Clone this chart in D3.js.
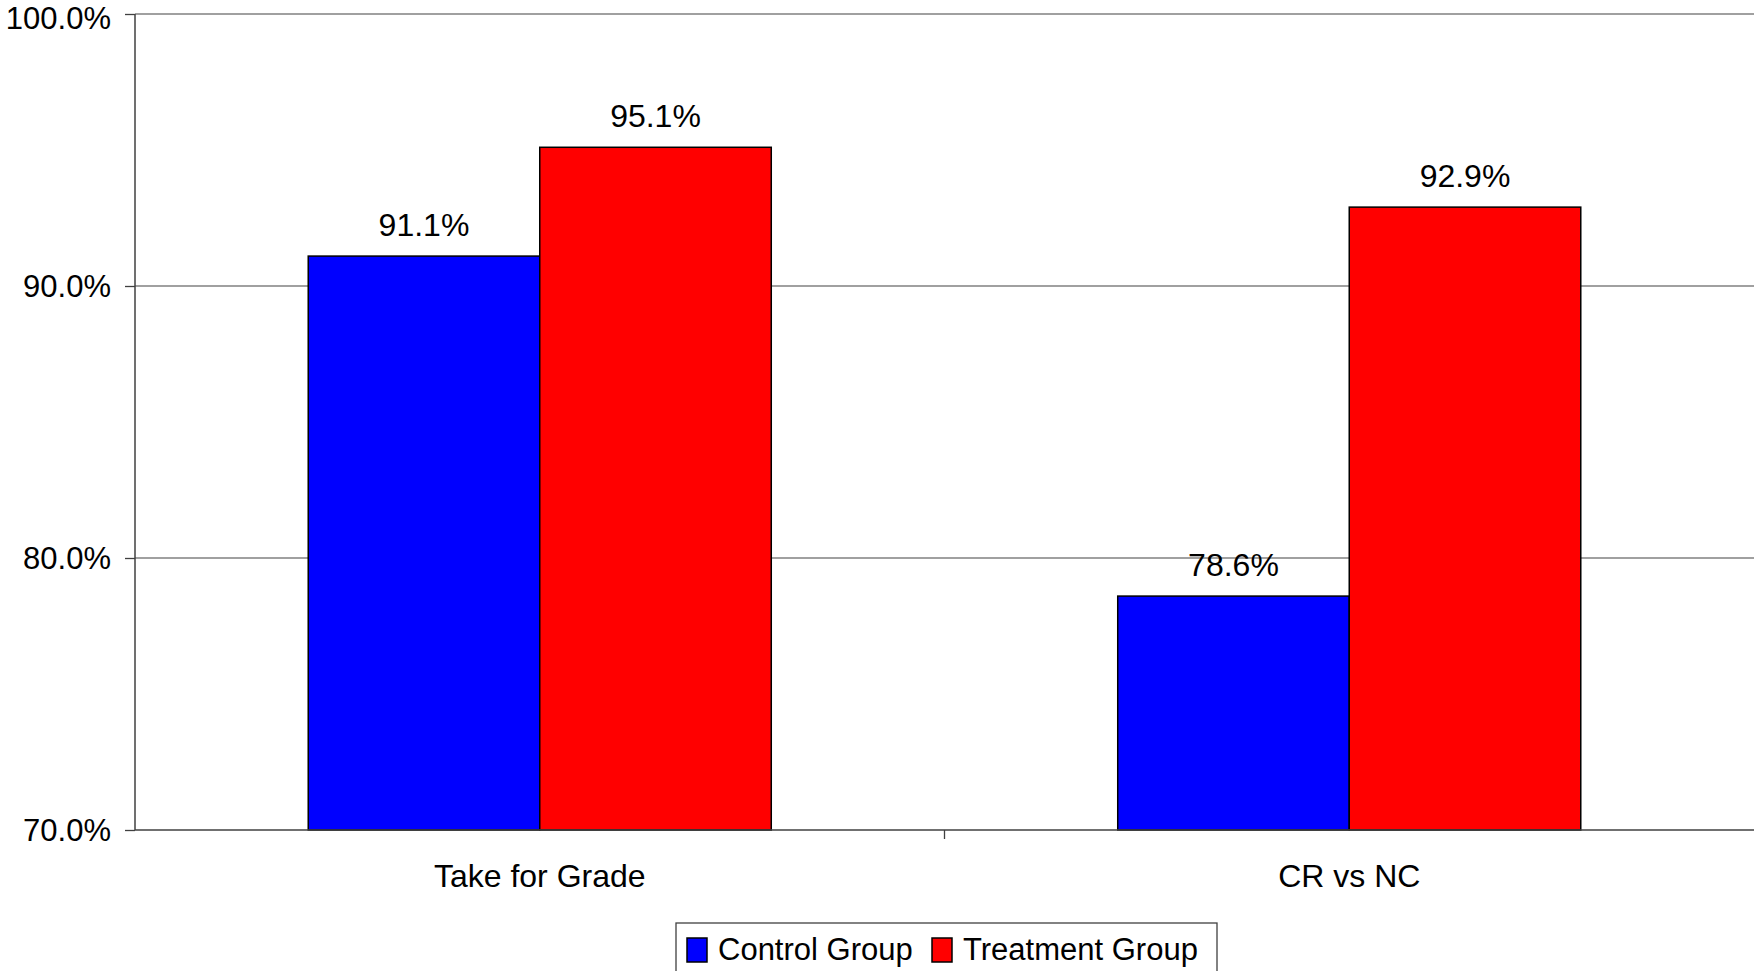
<!DOCTYPE html>
<meta charset="utf-8">
<script src="https://d3js.org/d3.v7.min.js"></script>
<style>
  body { margin: 0; background: #fff; }
  text { font-family: "Liberation Sans", Arial, sans-serif; fill: #000; }
</style>
<div id="my_viz"></div>
<script>

// chart data
var categories = ["Take for Grade", "CR vs NC"];
var groups = ["Control Group", "Treatment Group"];
var controlValues = [91.1, 78.6];
var treatmentValues = [95.1, 92.9];
var yTicks = [70, 80, 90, 100];
var groupColors = ["#0000ff", "#ff0000"];

var W = 1754, H = 971;
var margin = {top: 14, right: 0, bottom: 141, left: 135},
    width = W - margin.left - margin.right,
    height = H - margin.top - margin.bottom;

var svg = d3.select("#my_viz")
  .append("svg")
    .attr("width", W)
    .attr("height", H)
  .append("g")
    .attr("transform", "translate(" + margin.left + "," + margin.top + ")");

var data = categories.map(function(c, i) {
  return {cat: c, values: [controlValues[i], treatmentValues[i]]};
});

var x0 = d3.scaleBand()
  .domain(categories)
  .range([0, width])
  .paddingInner(0.428)
  .paddingOuter(0.214);

var x1 = d3.scaleBand()
  .domain(groups)
  .range([0, x0.bandwidth()]);

var y = d3.scaleLinear()
  .domain([70, 100])
  .range([height, 0]);

var color = d3.scaleOrdinal().domain(groups).range(groupColors);

// gridlines
svg.append("g")
  .selectAll("line")
  .data(yTicks.filter(function(d) { return d > 70; }))
  .enter()
  .append("line")
    .attr("x1", 0)
    .attr("x2", width)
    .attr("y1", function(d) { return y(d); })
    .attr("y2", function(d) { return y(d); })
    .style("stroke", "#808080")
    .style("stroke-width", 1.3);

// bars
var grp = svg.append("g")
  .selectAll("g")
  .data(data)
  .enter()
  .append("g")
    .attr("transform", function(d) { return "translate(" + x0(d.cat) + ",0)"; });

grp.selectAll("rect")
  .data(function(d) { return d.values.map(function(v, i) { return {g: groups[i], v: v}; }); })
  .enter()
  .append("rect")
    .attr("x", function(d) { return x1(d.g); })
    .attr("y", function(d) { return y(d.v); })
    .attr("width", x1.bandwidth())
    .attr("height", function(d) { return height - y(d.v); })
    .style("fill", function(d) { return color(d.g); })
    .style("stroke", "#000")
    .style("stroke-width", 1.5);

grp.selectAll("text")
  .data(function(d) { return d.values.map(function(v, i) { return {g: groups[i], v: v}; }); })
  .enter()
  .append("text")
    .attr("x", function(d) { return x1(d.g) + x1.bandwidth() / 2; })
    .attr("y", function(d) { return y(d.v) - 20; })
    .attr("text-anchor", "middle")
    .style("font-size", "32px")
    .text(function(d) { return d.v.toFixed(1) + "%"; });

// y axis
var yAxis = svg.append("g")
  .call(d3.axisLeft(y).tickValues(yTicks).tickSize(10).tickPadding(14)
    .tickFormat(function(d) { return d.toFixed(1) + "%"; }));
yAxis.select(".domain").style("stroke", "#404040").style("stroke-width", 1.5)
  .attr("d", "M0," + y(100) + "V" + height);
yAxis.selectAll(".tick line").style("stroke", "#404040").style("stroke-width", 1.3);
yAxis.selectAll("text")
  .style("font-size", "31px")
  .style("font-family", "Liberation Sans, Arial, sans-serif")
  .attr("dy", function(d) { return d === 100 ? "0.46em" : "0.35em"; });

// x axis
var xAxis = svg.append("g")
  .attr("transform", "translate(0," + height + ")");
xAxis.append("line")
  .attr("x1", 0).attr("x2", width)
  .style("stroke", "#404040").style("stroke-width", 1.5);
xAxis.selectAll("line.tk")
  .data([x0.step()])
  .enter()
  .append("line")
    .attr("class", "tk")
    .attr("x1", function(d) { return d; })
    .attr("x2", function(d) { return d; })
    .attr("y1", 0).attr("y2", 9)
    .style("stroke", "#404040").style("stroke-width", 1.3);
xAxis.selectAll("text")
  .data(categories)
  .enter()
  .append("text")
    .attr("x", function(d) { return x0(d) + x0.bandwidth() / 2; })
    .attr("y", 57)
    .attr("text-anchor", "middle")
    .style("font-size", "32px")
    .text(function(d) { return d; });

// legend
var legend = d3.select("svg").append("g")
  .attr("transform", "translate(676,923)");
legend.append("rect")
  .attr("x", 0).attr("y", 0)
  .attr("width", 541).attr("height", 60)
  .style("fill", "#fff")
  .style("stroke", "#404040")
  .style("stroke-width", 1.3);
var legendX = [11, 256];
legend.selectAll("rect.sw")
  .data(groups)
  .enter()
  .append("rect")
    .attr("class", "sw")
    .attr("x", function(d, i) { return legendX[i]; })
    .attr("y", 15)
    .attr("width", 20)
    .attr("height", 24)
    .style("fill", function(d) { return color(d); })
    .style("stroke", "#000")
    .style("stroke-width", 1.5);
legend.selectAll("text")
  .data(groups)
  .enter()
  .append("text")
    .attr("x", function(d, i) { return legendX[i] + 31; })
    .attr("y", 37)
    .style("font-size", "31px")
    .text(function(d) { return d; });

</script>
